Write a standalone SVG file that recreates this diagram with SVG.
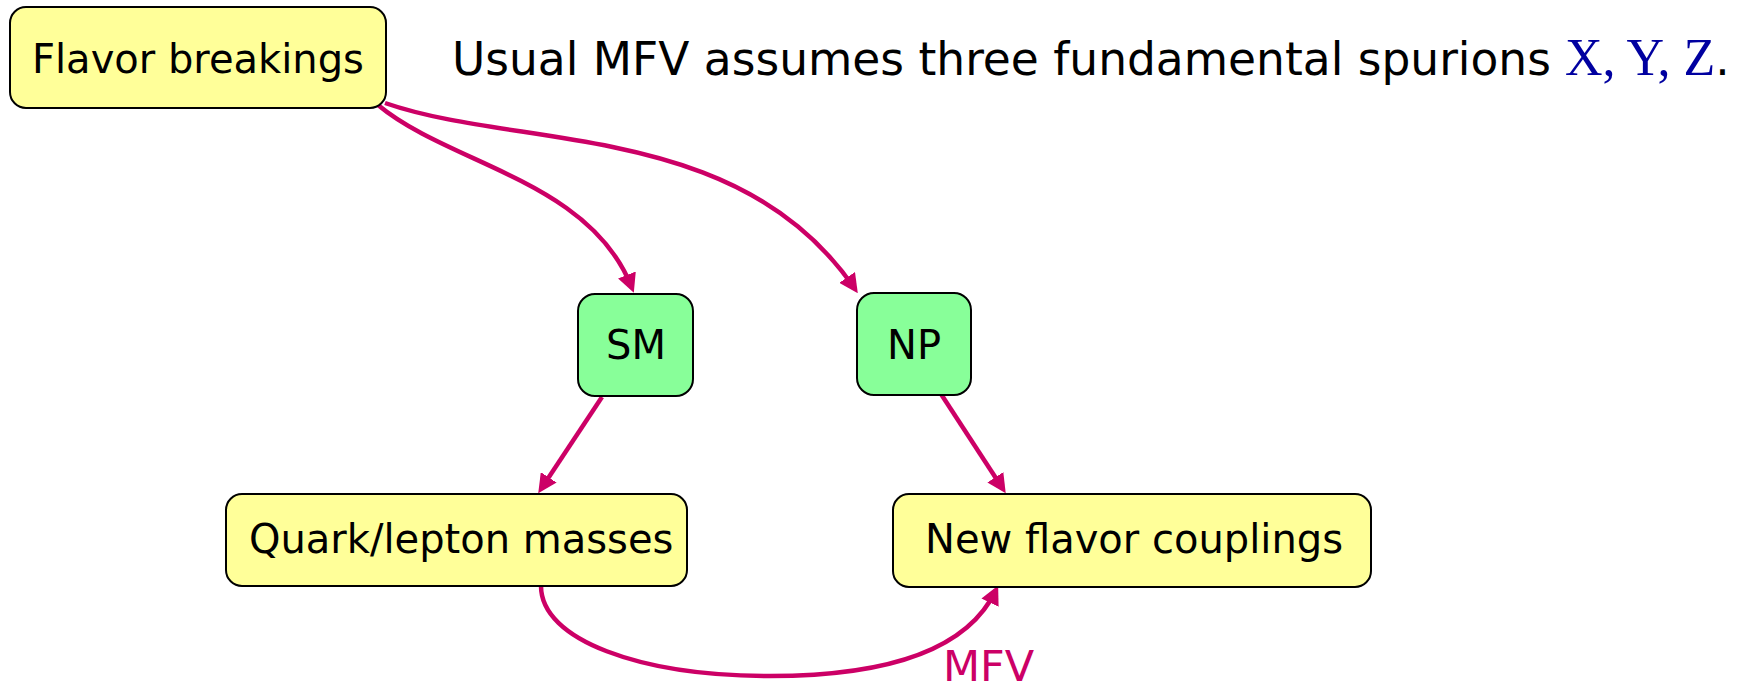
<svg xmlns="http://www.w3.org/2000/svg" width="1750" height="689" viewBox="0 0 1750 689">
<style>
.box{stroke:#000;stroke-width:2}
.y{fill:#FFFF99}
.g{fill:#88FF99}
.t{font-family:"DejaVu Sans",Verdana,sans-serif;font-size:40px;fill:#000}
.c{fill:none;stroke:#CC0066;stroke-width:4.5;marker-end:url(#ah)}
</style>
<defs>
<marker id="ah" markerUnits="userSpaceOnUse" markerWidth="19" markerHeight="19" refX="14" refY="9.5" orient="auto">
<path d="M0,0 L19,9.5 L0,19 z" fill="#CC0066"/>
</marker>
</defs>
<rect width="1750" height="689" fill="#fff"/>
<g id="connectors">
<path class="c" d="M378,105 C450,165 590,180 632,288"/>
<path class="c" d="M385,103 C520,150 740,120 855,289"/>
<path class="c" d="M602,397 L541,489"/>
<path class="c" d="M941,394 L1003,489"/>
<path class="c" d="M541,586 C541,640 640,676 770,676 C900,676 970,645 996,590"/>
<text x="943" y="681" style="font-family:'DejaVu Sans',Verdana,sans-serif;font-size:43px;fill:#CC0066">MFV</text>
</g>
<g id="flavor-breakings">
<rect class="box y" x="10" y="7" width="376" height="101" rx="16"/>
<text class="t" x="32" y="73">Flavor breakings</text>
</g>
<g id="sm">
<rect class="box g" x="578" y="294" width="115" height="102" rx="17"/>
<text class="t" x="636" y="359" text-anchor="middle">SM</text>
</g>
<g id="np">
<rect class="box g" x="857" y="293" width="114" height="102" rx="17"/>
<text class="t" x="914" y="359" text-anchor="middle">NP</text>
</g>
<g id="quark-lepton">
<rect class="box y" x="226" y="494" width="461" height="92" rx="16"/>
<text class="t" x="249" y="553">Quark/lepton masses</text>
</g>
<g id="new-flavor">
<rect class="box y" x="893" y="494" width="478" height="93" rx="16"/>
<text class="t" x="925" y="553">New flavor couplings</text>
</g>
<g id="title">
<text x="452" y="75" style="font-family:'DejaVu Sans',Verdana,sans-serif;font-size:45.5px;fill:#000">Usual MFV assumes three fundamental spurions <tspan x="1565" style="font-family:'Liberation Serif','Times New Roman',serif;font-size:52px;fill:#0000A0">X, Y, Z</tspan><tspan>.</tspan></text>
</g>
</svg>
